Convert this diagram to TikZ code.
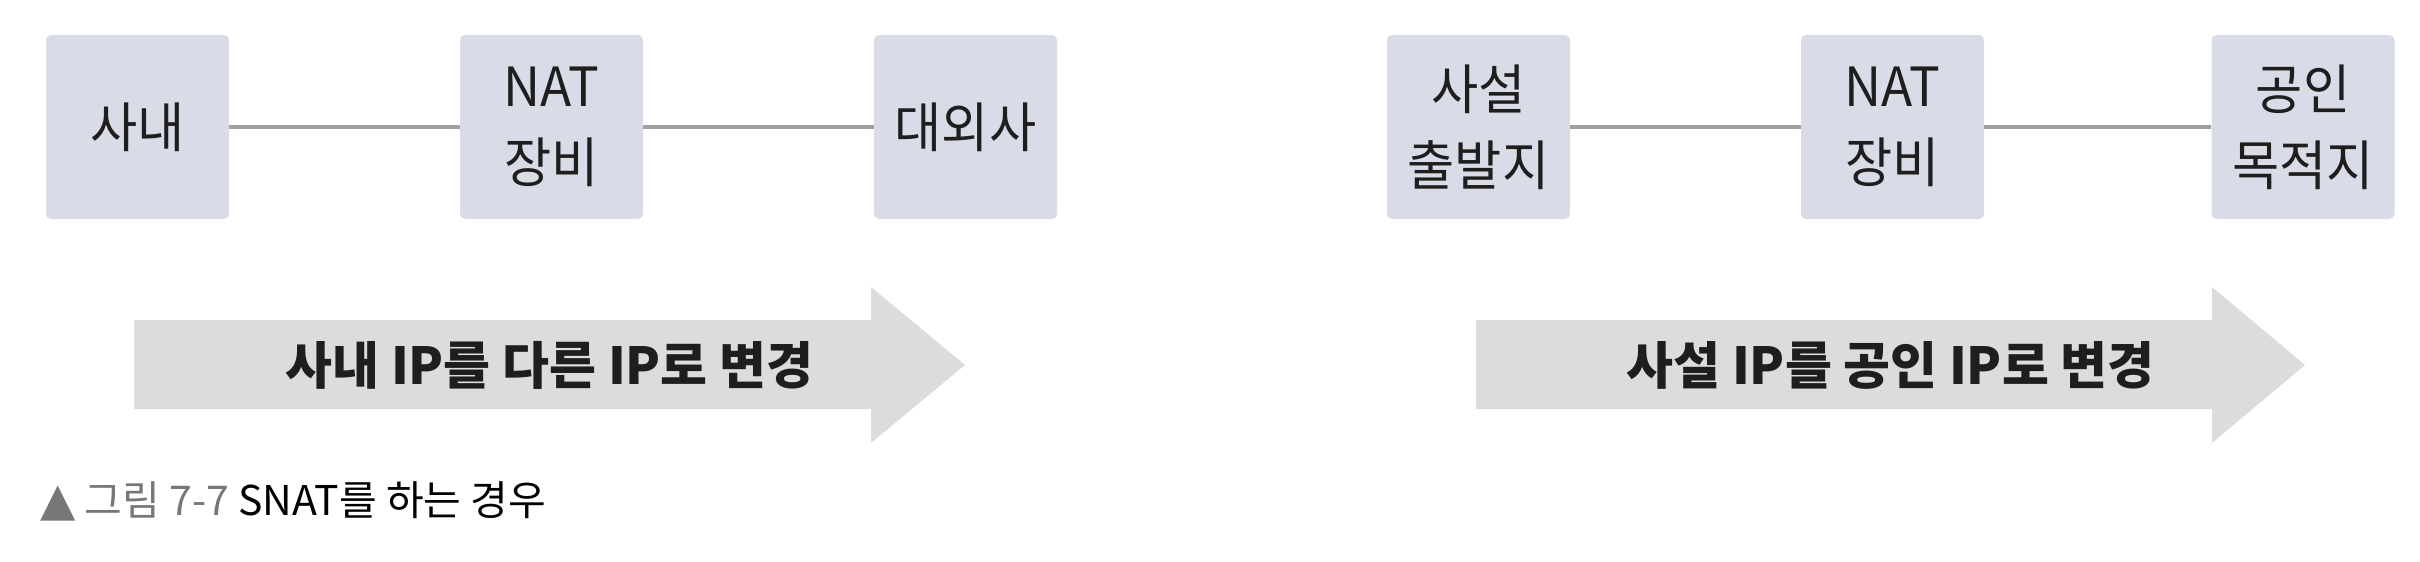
\documentclass[tikz,border=0pt]{standalone}
\usepackage{fontspec}
\setmainfont{Noto Sans CJK KR}
\newfontfamily\boxfont[FakeStretch=0.95]{Noto Sans CJK KR}
\newfontfamily\trifont{DejaVu Sans}
\definecolor{boxfill}{HTML}{D9DCE6}
\definecolor{arrowfill}{HTML}{DCDCDC}
\definecolor{linegray}{HTML}{A0A0A0}
\definecolor{capgray}{HTML}{777777}
\definecolor{txtc}{HTML}{1E1E1E}
\tikzset{
  hostbox/.style={rectangle, rounded corners=5pt, fill=boxfill, minimum width=183pt,
    minimum height=184pt, inner sep=0pt, align=center, text=txtc,
    font=\boxfont\fontsize{54}{76}\selectfont},
  conn/.style={draw=linegray, line width=3.5pt},
  bigarrow/.style={fill=arrowfill},
  arrowtext/.style={font=\bfseries\fontsize{51}{60}\selectfont, text=txtc, inner sep=0pt},
  captext/.style={font=\fontsize{41}{48}\selectfont, text=black, inner sep=0pt, anchor=base west}
}
\begin{document}
\begin{tikzpicture}[x=1pt,y=-1pt]
\useasboundingbox (0,0) rectangle (2420,562);
% left group
\node[hostbox] (a1) at (137.5,127) {사내};
\node[hostbox] (a2) at (551.5,127) {NAT\\장비};
\node[hostbox] (a3) at (965.5,127) {대외사};
\draw[conn] (a1.east) -- (a2.west);
\draw[conn] (a2.east) -- (a3.west);
\fill[bigarrow] (134,320) -- (871,320) -- (871,287) -- (965,365) -- (871,443) -- (871,409) -- (134,409) -- cycle;
\node[arrowtext] (at1) at (549.5,365) {사내 IP를 다른 IP로 변경};
% right group
\node[hostbox] (b1) at (1478.5,127) {사설\\출발지};
\node[hostbox] (b2) at (1892.5,127) {NAT\\장비};
\node[hostbox] (b3) at (2303,127) {공인\\목적지};
\draw[conn] (b1.east) -- (b2.west);
\draw[conn] (b2.east) -- (b3.west);
\fill[bigarrow] (1476,320) -- (2212,320) -- (2212,287) -- (2305,365) -- (2212,443) -- (2212,409) -- (1476,409) -- cycle;
\node[arrowtext] (at2) at (1890.5,365) {사설 IP를 공인 IP로 변경};
% caption
\node[captext] (cap) at (40,515) {{\color{capgray}{\trifont\fontsize{46}{48}\selectfont ▲} 그림 7-7} SNAT를 하는 경우};
\end{tikzpicture}
\end{document}
